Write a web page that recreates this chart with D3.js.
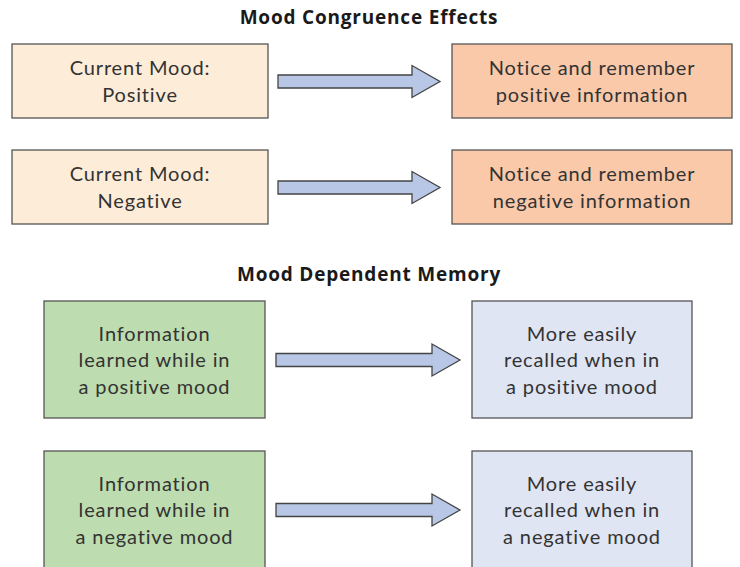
<!DOCTYPE html>
<html>
<head>
<meta charset="utf-8">
<script src="https://cdn.jsdelivr.net/npm/d3@7"></script>
<style>
  body { margin: 0; background: #fff; }
  svg { display: block; }
</style>
</head>
<body>
<div id="wrapper"></div>
<script>
// section titles
const titles = ["Mood Congruence Effects", "Mood Dependent Memory"];

// box texts, one entry per row
const congruenceFrom = [["Current Mood:", "Positive"], ["Current Mood:", "Negative"]];
const congruenceTo = [["Notice and remember", "positive information"], ["Notice and remember", "negative information"]];
const dependentFrom = [["Information", "learned while in", "a positive mood"], ["Information", "learned while in", "a negative mood"]];
const dependentTo = [["More easily", "recalled when in", "a positive mood"], ["More easily", "recalled when in", "a negative mood"]];

const W = 740, H = 567;
const svg = d3.select("#wrapper").append("svg").attr("width", W).attr("height", H);

const bodyFont = "Lato, 'Open Sans', sans-serif";
const titleFont = "'Open Sans', Lato, sans-serif";

// layout of the two sections
const sections = [
  { title: titles[0], titleY: 24, from: congruenceFrom, to: congruenceTo,
    rows: d3.scalePoint().domain([0, 1]).range([44, 150]), boxH: 74,
    fromX: [12, 268], toX: [452, 732], arrowX: [278, 440],
    fromFill: "#fdecd8", toFill: "#f9c9a9", lineH: 27 },
  { title: titles[1], titleY: 281, from: dependentFrom, to: dependentTo,
    rows: d3.scalePoint().domain([0, 1]).range([301, 451]), boxH: 117,
    fromX: [44, 265], toX: [472, 692], arrowX: [276, 460],
    fromFill: "#bddcaf", toFill: "#dfe5f3", lineH: 26.5 }
];

function drawBox(g, x0, x1, y0, h, fill, lines, lineH) {
  g.append("rect")
    .attr("x", x0).attr("y", y0)
    .attr("width", x1 - x0).attr("height", h)
    .attr("fill", fill).attr("stroke", "#555").attr("stroke-width", 1.3);
  const cx = (x0 + x1) / 2, cy = y0 + h / 2;
  const first = cy - (lines.length - 1) * lineH / 2 + 7.5;
  const t = g.append("text")
    .attr("text-anchor", "middle")
    .style("font-family", bodyFont).style("font-size", "20px")
    .style("letter-spacing", "0.85px")
    .attr("fill", "#333");
  lines.forEach((l, i) => {
    t.append("tspan").attr("x", cx).attr("y", first + i * lineH).text(l);
  });
}

function drawArrow(g, x0, x1, cy) {
  const shaft = 6.5, head = 16, headLen = 28;
  const p = d3.path();
  p.moveTo(x0, cy - shaft);
  p.lineTo(x1 - headLen, cy - shaft);
  p.lineTo(x1 - headLen, cy - head);
  p.lineTo(x1, cy);
  p.lineTo(x1 - headLen, cy + head);
  p.lineTo(x1 - headLen, cy + shaft);
  p.lineTo(x0, cy + shaft);
  p.closePath();
  g.append("path").attr("d", p.toString())
    .attr("fill", "#b7c7e5").attr("stroke", "#444").attr("stroke-width", 1.3)
    .attr("stroke-linejoin", "miter");
}

sections.forEach(s => {
  const g = svg.append("g");
  g.append("text")
    .attr("x", W / 2 - 1).attr("y", s.titleY)
    .attr("text-anchor", "middle")
    .style("font-family", titleFont).style("font-size", "19px").style("font-weight", "bold")
    .style("letter-spacing", "0.8px")
    .attr("fill", "#1a1a1a")
    .text(s.title);
  s.from.forEach((lines, i) => {
    const y0 = s.rows(i);
    drawBox(g, s.fromX[0], s.fromX[1], y0, s.boxH, s.fromFill, lines, s.lineH);
    drawBox(g, s.toX[0], s.toX[1], y0, s.boxH, s.toFill, s.to[i], s.lineH);
    drawArrow(g, s.arrowX[0], s.arrowX[1], y0 + s.boxH / 2 + 0.5);
  });
});
</script>
</body>
</html>
